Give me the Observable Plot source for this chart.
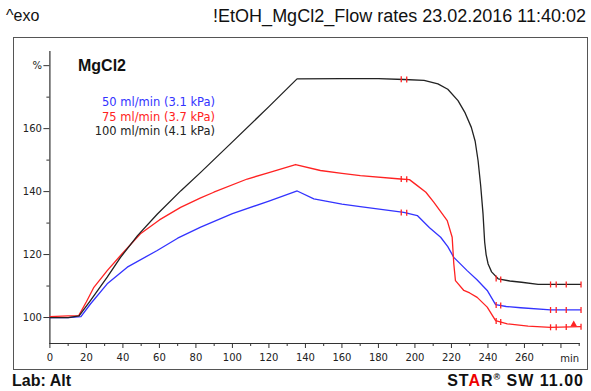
<!DOCTYPE html>
<html><head><meta charset="utf-8">
<script src="https://cdn.jsdelivr.net/npm/d3@7"></script>
<script src="https://cdn.jsdelivr.net/npm/@observablehq/plot@0.6"></script>
<style>
body{margin:0;background:#fff;}
#wrap{position:relative;width:591px;height:391px;overflow:hidden;font-family:"Liberation Sans",Arial,sans-serif;color:#111;}
.abs{position:absolute;white-space:nowrap;}
#box{position:absolute;left:13px;top:37px;width:575px;height:333px;border:1.5px solid #555;box-sizing:border-box;}
#chart{position:absolute;left:0;top:0;}
</style></head><body>
<div id="wrap">
<div id="box"></div>
<div class="abs" style="left:6px;top:7px;font-size:16px;">^exo</div>
<div class="abs" id="title" style="right:5px;top:6px;font-size:18px;"></div>
<div class="abs" id="sub" style="left:78px;top:57px;font-size:16px;font-weight:bold;"></div>
<div id="legend"></div>
<div class="abs" style="left:12px;top:372px;font-size:16px;font-weight:bold;">Lab: Alt</div>
<div class="abs" style="right:7px;top:372px;font-size:16px;font-weight:bold;letter-spacing:1px;">ST<span style="color:#e00">A</span>R<sup style="font-size:9px">®</sup> SW 11.00</div>
<div id="chart"></div>
</div>
<script>
const titleText = "!EtOH_MgCl2_Flow rates 23.02.2016 11:40:02";
const subtitleText = "MgCl2";
const seriesLabels = ["50 ml/min (3.1 kPa)", "75 ml/min (3.7 kPa)", "100 ml/min (4.1 kPa)"];

const xTicks = [0,20,40,60,80,100,120,140,160,180,200,220,240,260,280];
const xTickLabels = ["0","20","40","60","80","100","120","140","160","180","200","220","240","260",""];
const xMinor = [10,30,50,70,90,110,130,150,170,190,210,230,250,270,290];
const xUnit = "min";
const yTicks = [100,120,140,160,180];
const yTickLabels = ["100","120","140","160","%"];
const yMinor = [110,130,150,170];
const xDomain = [0,290];
const yDomain = [91.75,184.5];

// 50 ml/min (blue)
const blue = [[0,100],[10,100],[17,100.3],[22.2,104.3],[31.4,110.7],[42.4,116],[58.8,121.3],[70,125.2],[82.6,128.7],[100,133],[120,137],[135.5,140.2],[144.6,137.7],[160,136],[170,135.2],[193.9,133.4],[201.3,132.4],[208,128.5],[214.1,125.5],[218,122.5],[221.3,119.1],[228.6,114.9],[234,112],[239.6,108.6],[244.2,104.1],[250,103.5],[257.9,103.1],[274.3,102.4],[290.7,102.4]];
// 75 ml/min (red)
const red = [[0,100.3],[10,100.5],[15.8,100.6],[20,105],[24.1,109.6],[31.4,114.9],[38.7,119.7],[49.6,126.6],[60,131],[71.6,135],[82.6,138],[89.8,139.8],[108.1,144],[120,146],[134.6,148.6],[148.2,146.7],[160,145.8],[170.1,145.1],[192.1,144],[197,143.8],[201.3,141.9],[206,139.8],[210.4,136.6],[217.7,130.8],[220.4,125.5],[221.3,117],[222.2,111.7],[226.8,108.6],[230,107.8],[234.1,106.4],[239.6,103.3],[244.2,99],[250.6,98],[262,97.3],[274.3,96.9],[290.7,97.1]];
// 100 ml/min (black)
const black = [[0,100],[10,100],[16,100.5],[22.2,105.4],[31.4,112.8],[38.7,119.1],[48,126],[58.9,132.9],[71.8,140.3],[82.6,146.1],[100,155.8],[120,167],[135.4,175.8],[160,175.9],[180,175.9],[194,175.6],[205,175.3],[212.6,174.2],[218,172.5],[223.6,168.9],[227.5,165],[230.9,160.4],[233,156],[234.6,149.8],[236,142],[237.3,133],[238.2,124],[239,120],[240.1,117],[242,114.5],[245.6,112.3],[252,111.6],[258.4,111.2],[267.5,110.5],[290.7,110.5]];

// event markers (x, y)
const markBlue = [[192.5,133.4],[195.5,133.3],[244.5,104.0],[247,103.8],[274.3,102.4],[277.4,102.4],[282.9,102.4],[291,102.4]];
const markRed = [[192.5,144],[195.5,143.9],[244.5,98.9],[247,98.6],[274.3,96.9],[277.4,96.9],[282.9,97.0],[291,97.1]];
const markBlack = [[192.5,175.7],[195.5,175.6],[244.5,112.4],[247,112.1],[274.3,110.5],[277.4,110.5],[282.9,110.5],[291,110.5]];
const triRed = [[287,97.8]];

document.getElementById("title").textContent = titleText;
document.getElementById("sub").textContent = subtitleText;
const legColors = ["#3333ff","#ff2222","#222"];
const legTops = [95,110,124];
const leg = document.getElementById("legend");
seriesLabels.forEach((s,i)=>{
  const d = document.createElement("div");
  d.className = "abs";
  d.style.cssText = `right:376px;top:${legTops[i]}px;font-size:11.5px;font-family:'DejaVu Sans',sans-serif;color:${legColors[i]}`;
  d.textContent = s;
  leg.appendChild(d);
});

const bar = {draw(ctx, size){ const r = Math.sqrt(size/Math.PI); ctx.moveTo(0,-r); ctx.lineTo(0,r); }};
const xLab = new Map(xTicks.map((t,i)=>[t,xTickLabels[i]]));
const yLab = new Map(yTicks.map((t,i)=>[t,yTickLabels[i]]));

const chart = Plot.plot({
  width:591, height:391,
  marginLeft:49.4, marginRight:12.3, marginTop:51, marginBottom:48,
  x:{domain:xDomain}, y:{domain:yDomain},
  style:{background:"transparent", overflow:"visible", fontFamily:"'DejaVu Sans',sans-serif", fontSize:"10px", color:"#222"},
  marks:[
    Plot.frame({anchor:"left", stroke:"#333", strokeWidth:1.2}),
    Plot.frame({anchor:"bottom", stroke:"#333", strokeWidth:1.2}),
    Plot.axisX(xTicks, {anchor:"bottom", tickSize:5, tickPadding:5, tickFormat:d=>xLab.get(d), label:null, fontSize:10, stroke:"#333"}),
    Plot.axisX(xMinor, {anchor:"bottom", tickSize:3, tickFormat:()=>"" , label:null, stroke:"#333"}),
    Plot.axisY(yTicks, {anchor:"left", tickSize:6, tickPadding:2, tickFormat:d=>yLab.get(d), label:null, fontSize:10, stroke:"#333"}),
    Plot.axisY(yMinor, {anchor:"left", tickSize:3, tickFormat:()=>"", label:null, stroke:"#333"}),
    Plot.text([xUnit], {x:()=>xDomain[1], y:()=>yDomain[0], textAnchor:"end", dy:15, fontSize:10, fill:"#222"}),
    Plot.line(blue, {x:d=>d[0], y:d=>d[1], stroke:"#3333ff", strokeWidth:1.3}),
    Plot.line(red, {x:d=>d[0], y:d=>d[1], stroke:"#ff2222", strokeWidth:1.3}),
    Plot.line(black, {x:d=>d[0], y:d=>d[1], stroke:"#222", strokeWidth:1.3}),
    Plot.dot(markBlue.concat(markRed, markBlack), {x:d=>d[0], y:d=>d[1], symbol:bar, r:3, stroke:"#ff2222", strokeWidth:1.3, fill:"none"}),
    Plot.dot(triRed, {x:d=>d[0], y:d=>d[1], symbol:"triangle", r:2.5, fill:"#ff2222"})
  ]
});
document.getElementById("chart").appendChild(chart);
</script>
</body></html>
